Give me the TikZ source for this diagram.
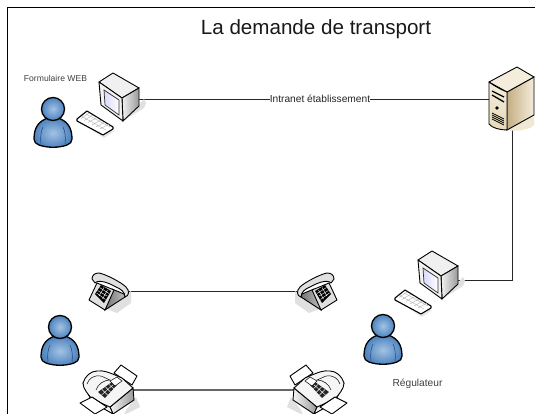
\documentclass[tikz,border=0pt]{standalone}
\usepackage{fontspec}
\setmainfont{Liberation Sans}
\definecolor{pin}{HTML}{A3C3E4}
\definecolor{pout}{HTML}{4C82BE}
\definecolor{pline}{HTML}{27407A}
\definecolor{srvA}{HTML}{C4AE84}
\definecolor{srvB}{HTML}{F4EDDC}
\definecolor{srvC}{HTML}{E6DAB8}
\definecolor{srvS}{HTML}{EFE8D4}
\begin{document}
\begin{tikzpicture}[x=1pt,y=-1pt,
  lbl/.style={inner sep=0pt,font=\fontsize{10.2}{12}\selectfont,text=black!75},
  wire/.style={draw=black!85,line width=.8pt},
  graywire/.style={draw=black!60,line width=1.2pt},
  ink/.style={draw=black,line width=.9pt,line join=round}]
\tikzset{
 person/.pic={
  \draw[ink,line width=1.3pt,inner color=pin,outer color=pout]
   (-5,9) .. controls (-14,12) and (-19,18) .. (-19,30) .. controls (-19,33) and (-17,35) .. (-14,36)
   .. controls (-6,39) and (6,39) .. (14,36) .. controls (17,35) and (19,33) .. (19,30) .. controls (19,18) and (14,12) .. (5,9) -- cycle;
  \draw[pline,line width=.5pt] (-12,35) .. controls (-13,28) and (-12,22) .. (-10,18);
  \draw[pline,line width=.5pt] (12,35) .. controls (13,28) and (12,22) .. (10,18);
  \draw[ink,line width=1.3pt,inner color=pin,outer color=pout] (0,0) circle (11.5);
 },
 computer/.pic={
  \fill[black!12] (26,46) -- (44,35) -- (46,30) -- (44,26) -- cycle;
  \draw[ink,fill=black!6] (13,0) -- (39,15) -- (22,25) -- (-1,9) -- cycle;
  \shade[draw=black,line width=.9pt,left color=black!5,right color=black!40] (22,25) -- (39,15) -- (39,33) -- (23,48) -- cycle;
  \draw[ink,fill=black!5] (-1,9) -- (22,25) -- (23,48) -- (1,32) -- cycle;
  \draw[draw=black!80,line width=.7pt,left color=blue!15,right color=white] (4,17) -- (19,27) -- (19,42) -- (5,32) -- cycle;
 },
 keyboard/.pic={
  \fill[black!10] (1,10) -- (27,27) -- (37,20) -- cycle;
  \draw[ink,line width=1.1pt,fill=white] (0,8) -- (10,0) -- (36,16) -- (36,18) -- (26,24) -- (0,10) -- cycle;
  \draw[black!30,line width=.4pt] (4,7.5) -- (12,2) (7,9.5) -- (16,4) (11,11.5) -- (20,6.5) (15,14) -- (24,9) (19,16) -- (28,11) (23,18) -- (32,13);
  \draw[black!30,line width=.4pt] (5,5.5) -- (29,19) (9,3) -- (33,16);
 },
 phone/.pic={
  \fill[black!12] (18,36) -- (28,40) -- (42,30) -- (42,18) -- cycle;
  % right face, front face
  \shade[draw=black,line width=.9pt,left color=black!55,right color=black!25] (23,16) -- (35,21) -- (36,24) -- (16,37) -- cycle;
  \draw[ink,fill=black!12] (8,10) -- (25,17) -- (16,37) -- (0,27) -- cycle;
  % keypad
  \fill[black] (6,21) -- (12,12) -- (22,18) -- (15,30) -- cycle;
  \draw[white,line width=.4pt] (8.5,17.5) -- (18,23) (10.5,14.5) -- (20,20.5) (7.5,20) -- (16.5,26.5) (10,23) -- (15,14.5) (13.5,26) -- (18.5,17);
  % handset
  \draw[ink,fill=black!12] (3,6) .. controls (3,2) and (6,0) .. (10,0) .. controls (16,1) and (32,9) .. (37,14)
    .. controls (41,18) and (40,23) .. (36,24) .. controls (36,19) and (32,16) .. (27,14) .. controls (20,10) and (10,6) .. (6,10) -- cycle;
 },
 fax/.pic={
  \fill[black!12] (46,47) -- (56,34) -- (60,44) -- (44,52) -- cycle;
  % paper tray rear
  \draw[ink,fill=white] (34,10) -- (41,2) -- (57,13) -- (52,22) -- cycle;
  % right face and front
  \shade[draw=black,line width=.9pt,left color=black!4,right color=black!40] (30,44) -- (53,25) -- (54,37) -- (33,51) -- cycle;
  \draw[ink,fill=black!5] (3,20) -- (30,44) -- (33,51) -- (12,39) -- cycle;
  % top
  \draw[ink,fill=black!4] (3,20) .. controls (5,13) and (11,8) .. (17,8) .. controls (24,7) and (30,10) .. (35,12) -- (42,15) -- (53,25) -- (30,44) -- (12,36) .. controls (8,31) and (3,26) .. (3,20) -- cycle;
  \draw[black,line width=.5pt] (7,21) .. controls (9,15) and (14,12) .. (21,13) -- (30,17) .. controls (24,17) and (18,21) .. (16,27);
  % keypad
  \fill[black!85] (18,29) -- (32,19) -- (37,22) -- (25,35) -- cycle;
  \draw[white,line width=.4pt] (21.5,32) -- (34.5,20.5) (22,26.5) -- (28,32.5) (25.5,24) -- (31,29.5) (29,21.5) -- (34,26);
  \draw[black,line width=.5pt,fill=white] (30,18) -- (37,14) -- (42,18) -- (35,23) -- cycle;
  % output tray
  \draw[ink,fill=white] (0,40) -- (12,34) -- (27,44) -- (15,51) -- cycle;
  \draw[black,line width=.5pt] (12,34) -- (21,40) -- (27,44);
 }
}
% frame
\useasboundingbox (0,0) rectangle (535,414);
\fill[white] (0,0) rectangle (535,414);
\draw[black,line width=1.5pt] (7.5,414) -- (7.5,7.7) -- (535,7.7);
% title
\node[inner sep=0pt,font=\fontsize{20.6}{24}\selectfont,text=black!90] (title) at (316,29.5) {La demande de transport};
% anchor nodes
\coordinate (pcA) at (139,99);
\coordinate (srvL) at (489,99);
\coordinate (srvBot) at (512,127);
\coordinate (pcB) at (457,280);
\coordinate (corner) at (512,280);
\coordinate (telA) at (128,291);
\coordinate (telB) at (298,291);
\coordinate (faxA) at (132,390);
\coordinate (faxB) at (295,390);
% wires
\draw[wire] (pcA) -- node[pos=.517,fill=white,inner sep=0.8pt,lbl,text=black!85] (intra) {Intranet établissement} (srvL);
\draw[wire] (srvBot) -- (corner) -- (pcB);
\draw[wire] (telA) -- (telB);
\draw[graywire] (faxA) -- (faxB);
% text
\node[lbl,font=\fontsize{8.6}{10}\selectfont] (form) at (55.5,78) {Formulaire WEB};
\node[lbl] (regu) at (417.5,384) {Régulateur};
% people
\pic at (53,109) {person};
\pic at (60,327) {person};
\pic at (383,326) {person};
% computers
\pic at (100,73) {computer};
\pic at (419,251) {computer};
\pic at (77,111) {keyboard};
\pic at (395,290) {keyboard};
% server
\fill[srvS] (507,130) -- (534,115) -- (534,125) .. controls (530,130) and (515,132) .. (507,130) -- cycle;
\shade[draw=black,line width=.9pt,left color=srvA,right color=srvB] (507,92) -- (534,77) -- (534,115) -- (507,130) -- cycle;
\draw[ink,fill=srvB] (489,82) -- (517,67) -- (534,77) -- (507,92) -- cycle;
\draw[ink,top color=srvB,bottom color=srvC] (489,82) .. controls (494,86) and (502,90) .. (507,92) -- (507,130) .. controls (500,130) and (492,128) .. (489,124) -- cycle;
\draw[black,line width=1.3pt] (492,91) -- (504,97) (492,95) -- (504,102);
\fill[black] (497,108) circle (1.8);
\draw[black,line width=.7pt] (492,113) -- (504,119) (492,115) -- (504,121) (492,117) -- (504,123) (492,119) -- (504,125);
% phones
\pic at (89,273) {phone};
\pic[xscale=-1] at (337,273) {phone};
% faxes
\pic at (80,363) {fax};
\pic[xscale=-1] at (347,363) {fax};
\end{tikzpicture}
\end{document}
